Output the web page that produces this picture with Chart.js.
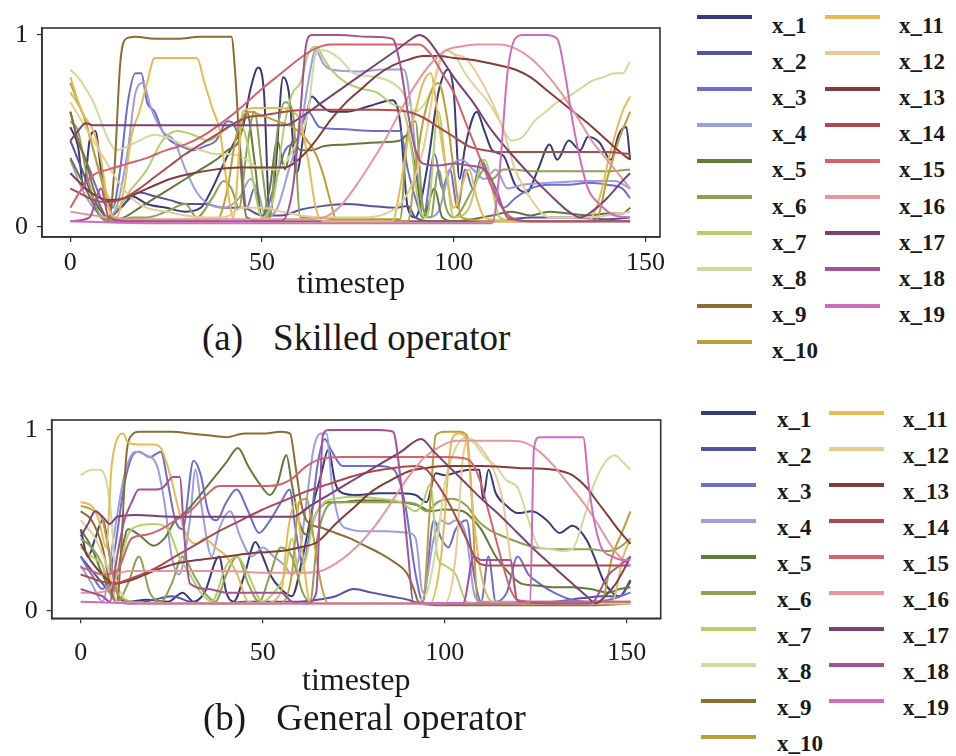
<!DOCTYPE html>
<html>
<head>
<meta charset="utf-8">
<script src="https://cdn.jsdelivr.net/npm/chart.js@4.4.1/dist/chart.umd.min.js"></script>
<style>
  body { margin: 0; background: #fff; width: 956px; height: 756px; position: relative; overflow: hidden; font-family: 'Liberation Serif', 'Times New Roman', serif; color: #1a1a1a; }
  canvas { position: absolute; left: 0; }
  .caption { position: absolute; font-size: 37px; line-height: 37px; white-space: nowrap; }
  .caption span { margin-left: 30px; }
  .lg-line { position: absolute; width: 55px; height: 4px; }
  .lg-text { position: absolute; font-size: 23px; line-height: 23px; font-weight: bold; }
</style>
</head>
<body>
<canvas id="chartA" width="680" height="304" style="top:0"></canvas>
<canvas id="chartB" width="680" height="311" style="top:390px"></canvas>
<div class="caption" style="left:202px;top:319px">(a)<span>Skilled operator</span></div>
<div class="caption" style="left:203px;top:699px">(b)<span>General operator</span></div>
<div id="legendA"></div>
<div id="legendB"></div>

<script>
const names = ['x_1','x_2','x_3','x_4','x_5','x_6','x_7','x_8','x_9','x_10',
               'x_11','x_12','x_13','x_14','x_15','x_16','x_17','x_18','x_19'];
const colors = ['#393b79','#5254a3','#6b6ecf','#9c9ede','#637939','#8ca252','#b5cf6b','#cedb9c','#8c6d31','#bd9e39',
                '#e7ba52','#e7cb94','#843c39','#ad494a','#d6616b','#e7969c','#7b4173','#a55194','#ce6dbd'];
const xTicks = [0, 50, 100, 150];
const yTicks = [0, 1];

// (a) Skilled operator: [timestep, value]
const aX1 = [[0,.52],[2,.42],[3.5,.2],[5,.45],[6.5,.5],[8,.3],[10,.12],[13,.1],[16,.16],[20,.12],[25,.1],[30,.08],[34,.1],[37,.2],[40,.33],[43,.45],[45,.52],[47,.72],[49,.83],[50.5,.7],[52,.06],[53.5,.3],[55.5,.78],[57,.7],[59,.28],[61,.5],[63,.68],[65,.64],[68,.6],[72,.6],[78,.63],[84,.66],[86,.55],[88,.1],[90,.05],[93,.3],[96,.7],[98.5,.82],[100,.7],[101.5,.25],[103,.42],[106,.6],[108,.5],[110,.4],[113,.37],[116,.22],[119,.18],[122,.3],[125,.43],[127,.35],[130,.45],[133,.4],[135,.47],[138,.44],[141,.35],[143,.48],[145,.52],[146,.35]];
const aX2 = [[0,.45],[3,.3],[6,.15],[10,.05],[14,.12],[18,.18],[22,.16],[26,.14],[30,.12],[35,.12],[40,.1],[45,.1],[50,.06],[55,.06],[60,.09],[66,.11],[72,.12],[78,.11],[85,.1],[88,.11],[90,.05],[94,.03],[100,.03],[110,.03],[120,.05],[130,.05],[140,.04],[146,.05]];
const aX3 = [[0,.6],[2,.45],[5,.3],[8,.15],[11,.1],[13,.3],[15,.65],[17,.8],[18.5,.8],[20,.65],[22,.6],[24,.5],[26,.45],[29,.42],[32,.4],[35,.42],[38,.45],[41,.55],[44,.45],[46,.1],[48,.2],[50,.05],[53,.2],[56,.4],[59,.45],[62,.6],[65,.52],[70,.51],[80,.5],[86,.5],[88,.3],[90,.15],[92,.05],[95,.38],[97,.2],[99,.3],[101,.1],[103,.3],[105,.2],[107,.35],[110,.22],[113,.1],[116,.15],[120,.2],[125,.22],[130,.22],[135,.23],[140,.22],[144,.2],[146,.15]];
const aX4 = [[0,.35],[3,.2],[6,.1],[9,.05],[12,.1],[15,.4],[17,.7],[19,.75],[21,.62],[24,.5],[27,.45],[30,.3],[33,.18],[36,.12],[40,.1],[44,.15],[47,.25],[49,.18],[51,.05],[54,.1],[57,.3],[60,.5],[62,.75],[64,.92],[66,.85],[68,.82],[75,.81],[82,.82],[87,.82],[89,.6],[91,.2],[93,.05],[96,.08],[99,.3],[102,.35],[105,.3],[108,.25],[111,.3],[114,.2],[118,.22],[125,.23],[135,.24],[142,.24],[146,.2]];
const aX5 = [[0,.36],[2,.28],[4,.2],[6,.12],[8,.05],[10,.03],[14,.05],[18,.1],[22,.15],[26,.2],[30,.25],[34,.3],[38,.35],[41,.4],[44,.45],[46,.6],[48,.35],[50,.05],[52,.2],[54,.45],[56,.3],[58,.45],[60,.4],[63,.4],[66,.42],[72,.43],[80,.44],[86,.45],[88,.48],[90,.3],[92,.05],[95,.2],[97,.05],[100,.03],[105,.04],[110,.06],[115,.08],[120,.06],[125,.08],[130,.07],[135,.06],[140,.07],[144,.07],[146,.1]];
const aX6 = [[0,.55],[2,.5],[4,.3],[6,.15],[8,.05],[12,.03],[16,.05],[20,.05],[25,.08],[30,.12],[33,.05],[37,.15],[40,.24],[42,.2],[44,.1],[46,.4],[48,.6],[50,.3],[52,.05],[54,.5],[56,.65],[58,.6],[60,.05],[63,.05],[70,.04],[80,.04],[86,.04],[88,.5],[90,.55],[92,.1],[94,.05],[96,.3],[98,.1],[100,.05],[105,.2],[108,.3],[110,.25],[113,.3],[115,.3],[120,.29],[130,.29],[140,.29],[146,.3]];
const aX7 = [[0,.7],[3,.6],[6,.4],[9,.2],[12,.1],[16,.2],[20,.3],[24,.45],[28,.5],[32,.48],[36,.45],[40,.5],[44,.55],[46,.45],[48,.2],[50,.05],[53,.15],[56,.55],[58,.7],[60,.75],[62,.9],[64,.94],[66,.88],[68,.82],[72,.75],[76,.72],[80,.7],[84,.64],[87,.6],[89,.4],[91,.1],[93,.05],[96,.6],[98,.3],[100,.05],[104,.1],[108,.35],[112,.05],[116,.03],[125,.03],[135,.03],[146,.03]];
const aX8 = [[0,.82],[2,.78],[4,.72],[6,.65],[8,.55],[10,.45],[12,.4],[15,.42],[18,.45],[22,.48],[26,.46],[30,.42],[34,.4],[38,.38],[42,.38],[46,.35],[50,.3],[54,.3],[58,.4],[62,.6],[64,.9],[66,.92],[70,.88],[74,.8],[80,.78],[86,.72],[90,.6],[94,.7],[98,.92],[100,.9],[103,.8],[106,.72],[109,.65],[112,.55],[115,.45],[118,.47],[121,.55],[124,.6],[127,.65],[130,.68],[133,.72],[136,.76],[139,.78],[142,.8],[144,.8],[146,.86]];
const aX9 = [[0,.6],[2,.45],[4,.35],[6,.2],[8,.1],[10,.04],[11.5,.3],[13,.85],[14.5,.98],[17,.99],[22,.98],[28,.98],[34,.99],[40,.99],[42,.99],[43,.8],[44.5,.3],[46,.05],[50,.03],[60,.03],[70,.03],[80,.03],[90,.03],[100,.03],[110,.03],[120,.03],[130,.03],[140,.03],[146,.03]];
const aX10 = [[0,.75],[2,.65],[4,.55],[6,.4],[8,.25],[10,.1],[12,.04],[20,.03],[30,.03],[38,.03],[41,.2],[43,.45],[45,.58],[47,.6],[50,.58],[54,.55],[58,.52],[61,.47],[64,.38],[66,.27],[68,.12],[69.5,.03],[75,.03],[85,.03],[88,.03],[90,.3],[92,.55],[94,.7],[96,.75],[98,.6],[100,.3],[102,.05],[110,.03],[120,.03],[130,.03],[137,.03],[140,.25],[143,.45],[146,.6]];
const aX11 = [[0,.78],[3,.6],[6,.5],[8,.35],[10,.1],[12,.05],[14,.2],[16,.48],[18,.6],[20,.75],[22,.88],[26,.88],[30,.88],[33,.88],[35,.75],[37,.62],[39,.5],[41,.2],[42.5,.05],[45,.6],[48,.62],[52,.62],[55,.62],[58,.6],[60,.55],[62,.35],[64,.1],[66,.03],[75,.03],[84,.03],[86,.2],[88,.45],[90,.6],[92,.75],[94,.8],[96,.55],[98,.3],[100,.1],[104,.3],[106,.15],[108,.05],[115,.03],[125,.03],[135,.03],[138,.15],[141,.4],[144,.6],[146,.68]];
const aX12 = [[0,.65],[3,.55],[6,.45],[9,.35],[12,.25],[16,.15],[20,.1],[25,.08],[30,.06],[35,.05],[40,.05],[45,.1],[50,.1],[55,.08],[60,.06],[66,.05],[75,.05],[85,.1],[92,.4],[96,.85],[98,.92],[100,.9],[103,.88],[106,.8],[110,.65],[113,.5],[116,.3],[120,.15],[125,.05],[135,.05],[146,.08]];
const aX13 = [[0,.28],[3,.22],[6,.17],[10,.14],[14,.15],[20,.2],[26,.25],[32,.28],[38,.3],[44,.31],[50,.31],[56,.31],[60,.36],[64,.45],[68,.56],[72,.65],[76,.72],[80,.79],[84,.84],[88,.87],[92,.89],[96,.89],[100,.88],[105,.87],[110,.85],[116,.82],[120,.78],[125,.7],[130,.62],[135,.54],[140,.45],[144,.38],[146,.35]];
const aX14 = [[0,.2],[3,.17],[6,.14],[10,.13],[14,.15],[18,.2],[22,.26],[26,.32],[30,.38],[34,.43],[38,.48],[42,.53],[46,.57],[50,.58],[56,.6],[62,.61],[70,.61],[80,.61],[88,.6],[92,.57],[96,.52],[100,.47],[104,.42],[108,.4],[112,.39],[120,.39],[130,.39],[140,.39],[146,.38]];
const aX15 = [[0,.1],[3,.2],[6,.27],[10,.3],[15,.33],[20,.36],[25,.4],[30,.43],[35,.48],[40,.55],[45,.63],[50,.72],[55,.8],[60,.88],[64,.93],[68,.95],[75,.95],[85,.95],[91,.95],[94,.9],[97,.8],[100,.7],[103,.55],[106,.4],[109,.25],[112,.12],[115,.05],[120,.03],[130,.03],[140,.03],[146,.03]];
const aX16 = [[0,.08],[10,.05],[20,.04],[30,.04],[40,.04],[50,.04],[60,.04],[66,.05],[70,.1],[74,.2],[78,.32],[82,.45],[86,.6],[90,.74],[94,.85],[98,.92],[102,.94],[106,.95],[112,.95],[116,.93],[120,.88],[124,.8],[128,.7],[132,.58],[136,.45],[140,.35],[144,.25],[146,.2]];
const aX17 = [[0,.45],[2,.5],[4,.54],[6,.53],[10,.53],[20,.53],[30,.53],[40,.53],[50,.53],[56,.53],[60,.57],[65,.64],[70,.71],[75,.78],[80,.85],[85,.92],[89,.98],[91,1.0],[93,.98],[96,.9],[100,.78],[105,.65],[110,.5],[115,.38],[120,.27],[125,.17],[130,.08],[133,.05],[136,.08],[140,.15],[144,.24],[146,.28]];
const aX18 = [[0,.03],[5,.05],[8,.2],[10,.05],[15,.03],[30,.03],[45,.03],[55,.03],[58,.2],[60,.6],[61.5,.95],[63,1.0],[70,1.0],[78,.99],[84,.98],[86,.85],[88,.6],[90,.4],[92,.33],[96,.32],[100,.33],[104,.32],[108,.3],[111,.2],[114,.05],[120,.03],[130,.03],[140,.03],[146,.03]];
const aX19 = [[0,.03],[20,.02],[40,.02],[60,.02],[80,.02],[100,.02],[110,.02],[112,.3],[114,.8],[116,.98],[118,1.0],[124,1.0],[127,.98],[129,.8],[131,.55],[133,.35],[135,.2],[138,.12],[142,.06],[146,.05]];

// (b) General operator: [timestep, value]
const bX1 = [[0,.45],[2,.3],[4,.4],[6,.5],[8,.3],[10,.1],[13,.05],[18,.06],[24,.05],[28,.1],[31,.05],[34,.1],[38,.3],[40,.1],[42,.05],[45,.2],[48,.38],[50,.3],[52,.2],[55,.12],[58,.08],[61,.3],[64,.6],[66,.75],[68,.89],[70,.7],[72,.65],[76,.64],[82,.65],[88,.65],[92,.64],[95,.6],[97.5,.76],[100,.75],[104,.77],[107,.78],[109.5,.78],[110.5,.62],[112,.78],[114,.65],[117,.58],[120,.54],[124,.55],[128,.5],[131.6,.43],[135,.47],[139,.39],[141,.3],[143.5,.17],[146,.1],[148,.08],[151,.17]];
const bX2 = [[0,.3],[4,.2],[8,.1],[10,.05],[15,.04],[20,.06],[25,.08],[30,.05],[35,.04],[40,.04],[45,.05],[50,.05],[55,.05],[60,.05],[65,.06],[70,.08],[75,.12],[80,.1],[85,.08],[90,.06],[93,.04],[100,.04],[110,.04],[120,.04],[130,.05],[138,.07],[143,.08],[148,.08],[151,.16]];
const bX3 = [[0,.3],[3,.2],[6,.12],[9,.3],[12,.7],[14,.85],[16,.88],[19,.85],[22,.88],[24,.7],[26,.5],[28,.45],[31,.83],[33,.75],[35,.55],[37.3,.5],[40,.6],[42.8,.67],[46,.55],[49,.43],[52,.5],[55,.6],[57.4,.67],[59,.45],[61,.26],[63,.45],[65,.8],[67,.95],[69,.88],[72,.8],[76,.8],[82,.8],[86,.78],[89,.6],[92,.2],[94,.05],[97,.5],[99,.4],[101,.35],[103,.45],[106,.5],[108,.2],[110,.05],[112,.3],[114,.05],[117,.1],[120,.3],[123,.2],[126,.15],[130,.1],[135,.06],[140,.05],[145,.06],[151,.1]];
const bX4 = [[0,.25],[3,.15],[6,.05],[9,.4],[12,.75],[15,.88],[18,.86],[21,.8],[23,.6],[25,.3],[27,.2],[30,.5],[31.5,.78],[33,.6],[36,.3],[38,.45],[41,.55],[44,.4],[47,.3],[50,.35],[53,.3],[56,.25],[58,.2],[60,.3],[62,.6],[64,.9],[66,.98],[67.5,.98],[69,.7],[71,.5],[74,.45],[78,.44],[84,.44],[90,.43],[92,.4],[94,.1],[97,.4],[99,.5],[101,.48],[103,.5],[106,.4],[108,.1],[110,.05],[115,.05],[125,.05],[135,.05],[145,.05],[151,.05]];
const bX5 = [[0,.45],[3,.35],[6,.2],[9,.1],[11,.3],[13,.45],[16,.42],[20,.36],[23,.4],[26,.5],[29,.55],[32,.62],[36,.72],[40,.82],[43.2,.9],[46,.8],[49.2,.7],[52,.64],[54,.7],[56.5,.86],[58,.7],[60.2,.48],[62,.42],[65,.55],[68,.6],[72,.6],[76,.61],[82,.61],[88,.6],[93,.58],[96,.55],[100,.56],[105,.55],[108,.5],[110,.45],[114,.3],[118,.2],[121,.15],[125,.14],[130,.13],[135,.13],[140,.12],[145,.1],[148,.12],[151,.13]];
const bX6 = [[0,.4],[3,.35],[6,.25],[8,.1],[10,.05],[13,.15],[16,.3],[19,.1],[22,.05],[25,.15],[28,.3],[31,.2],[34,.1],[37,.05],[40,.2],[43,.3],[46,.15],[49,.05],[52,.2],[55,.35],[58,.3],[61,.1],[63,.05],[65,.4],[67,.55],[70,.6],[75,.6],[82,.6],[88,.6],[92,.59],[95,.55],[98,.6],[102,.62],[106,.58],[109,.5],[112,.45],[115,.42],[120,.38],[125,.35],[130,.34],[135,.34],[140,.34],[145,.33],[148,.35],[151,.4]];
const bX7 = [[0,.35],[3,.3],[6,.25],[8,.15],[10,.2],[13,.42],[16,.47],[20,.48],[24,.45],[27,.3],[30,.2],[33,.1],[36,.05],[40,.25],[43,.3],[46,.2],[50,.05],[53,.1],[56,.2],[58,.4],[60,.2],[62,.3],[64,.5],[67,.6],[70,.62],[75,.63],[82,.62],[88,.6],[92,.55],[94,.6],[96,.7],[98,.3],[100,.25],[103,.2],[106,.05],[110,.04],[120,.04],[130,.04],[140,.04],[151,.05]];
const bX8 = [[0,.75],[3,.78],[5.3,.78],[7,.72],[8.5,.5],[9.5,.2],[11,.1],[14,.05],[20,.04],[30,.04],[40,.04],[50,.04],[60,.04],[70,.04],[80,.04],[90,.04],[95,.1],[98,.4],[100,.7],[103,.9],[106,.96],[108,.93],[111,.85],[114,.8],[117,.72],[120,.68],[123,.5],[126,.35],[129,.34],[132,.33],[135,.34],[138,.5],[141,.7],[144,.82],[146.7,.86],[149,.82],[151,.78]];
const bX9 = [[0,.55],[3,.5],[6,.35],[8,.15],[10,.05],[11,.3],[12.5,.85],[14,.97],[16,.99],[20,.99],[25,.99],[30,.98],[35,.97],[40,.96],[45,.98],[50,.98],[55,.99],[57.5,.98],[59,.8],[60.5,.6],[62,.5],[66,.46],[70,.43],[74,.4],[78,.36],[82,.32],[86,.27],[89.5,.21],[91.5,.12],[93,.04],[100,.03],[110,.03],[120,.03],[130,.03],[140,.03],[151,.04]];
const bX10 = [[0,.58],[3,.56],[6,.5],[8,.3],[10,.1],[14,.05],[20,.04],[30,.04],[40,.04],[50,.04],[55,.04],[58,.2],[60,.6],[62,.62],[64,.4],[66,.15],[68,.04],[80,.04],[90,.04],[94,.05],[96,.6],[97.5,.97],[100,.99],[104,.99],[106,.97],[107.5,.6],[109,.05],[115,.04],[125,.04],[135,.04],[143,.05],[146,.3],[149,.45],[151,.55]];
const bX11 = [[0,.6],[3,.58],[5,.5],[7,.35],[8.5,.8],[10,.95],[11.7,.98],[13,.93],[16,.92],[20,.92],[22,.9],[24.6,.75],[27,.55],[29,.42],[31.8,.37],[34,.4],[37,.35],[40,.3],[43,.2],[46,.05],[50,.04],[55,.1],[57,.45],[59,.6],[61,.3],[63,.05],[70,.04],[80,.04],[90,.04],[96,.04],[99,.3],[102,.95],[104,.98],[106,.94],[108,.5],[110,.2],[113,.05],[120,.04],[130,.04],[140,.04],[146,.05],[149,.3],[151,.4]];
const bX12 = [[0,.5],[4,.4],[8,.2],[10,.05],[20,.04],[30,.04],[40,.04],[50,.04],[60,.04],[70,.04],[80,.04],[90,.04],[100,.04],[103,.3],[105,.85],[107,.95],[110,.9],[113,.8],[116,.6],[118,.3],[120,.05],[130,.04],[140,.04],[151,.04]];
const bX13 = [[0,.37],[3,.27],[6,.2],[9,.15],[14,.17],[20,.22],[26,.26],[32,.28],[40,.3],[48,.32],[55,.33],[60,.35],[65,.38],[70,.48],[75,.57],[80,.66],[85,.72],[90,.77],[95,.79],[100,.8],[110,.8],[120,.79],[130,.78],[135,.75],[139,.68],[142,.6],[145,.52],[148,.44],[151,.37]];
const bX14 = [[0,.2],[3,.18],[6,.16],[9,.15],[14,.18],[20,.23],[26,.3],[32,.37],[38,.44],[44,.5],[50,.56],[56,.61],[62,.66],[68,.7],[74,.74],[80,.77],[86,.79],[92,.8],[95,.78],[98,.7],[101,.6],[104,.48],[107,.35],[109,.27],[112,.25],[120,.25],[130,.25],[140,.25],[146,.25],[151,.25]];
const bX15 = [[0,.24],[3,.22],[6,.2],[10,.22],[14,.4],[18,.42],[22,.45],[26,.5],[30,.55],[34,.63],[38,.69],[44,.69],[50,.69],[55,.7],[58,.73],[62,.8],[66,.84],[72,.85],[80,.85],[90,.85],[100,.85],[106,.84],[108,.8],[110,.7],[112,.55],[114,.4],[116,.25],[118,.12],[120,.06],[125,.05],[135,.05],[145,.05],[151,.05]];
const bX16 = [[0,.1],[4,.1],[8,.12],[10,.2],[14,.22],[20,.22],[30,.22],[40,.22],[50,.21],[60,.21],[66,.22],[70,.26],[74,.32],[78,.4],[82,.5],[86,.62],[90,.74],[94,.84],[98,.9],[103,.94],[110,.94],[118,.94],[122,.93],[126,.88],[130,.8],[134,.7],[138,.6],[142,.48],[145,.38],[148,.3],[151,.25]];
const bX17 = [[0,.41],[2,.48],[4,.55],[6,.52],[8,.48],[10,.52],[15,.53],[25,.52],[35,.52],[45,.52],[55,.52],[58.3,.52],[63,.58],[68,.64],[73,.7],[78,.76],[83,.82],[88,.88],[93.5,.95],[97,.88],[101,.8],[105,.72],[110,.62],[115,.53],[120,.43],[125,.33],[130,.24],[135,.15],[139,.08],[141.5,.04],[144,.08],[147,.15],[149,.22],[151,.3]];
const bX18 = [[0,.12],[3,.1],[6,.08],[8,.05],[10,.3],[12,.5],[14,.6],[16,.67],[20,.67],[22.5,.68],[25.4,.74],[27.2,.74],[28.5,.4],[30,.15],[35,.12],[40,.1],[50,.1],[55,.1],[58,.05],[62,.04],[64.7,.1],[66.5,.97],[68,1.0],[75,1.0],[82,1.0],[85.8,.99],[88,.7],[90,.3],[91.3,.05],[96,.04],[105,.04],[108,.3],[110,.28],[115,.28],[118,.28],[120,.05],[130,.04],[140,.04],[145,.2],[148,.25],[151,.3]];
const bX19 = [[0,.05],[20,.04],[40,.04],[60,.04],[80,.04],[100,.04],[120,.04],[123.4,.05],[124.5,.9],[126,.96],[132,.96],[138,.96],[139.5,.7],[141,.5],[143,.35],[146,.3],[149,.28],[151,.28]];

const skilled = [aX1,aX2,aX3,aX4,aX5,aX6,aX7,aX8,aX9,aX10,aX11,aX12,aX13,aX14,aX15,aX16,aX17,aX18,aX19];
const general = [bX1,bX2,bX3,bX4,bX5,bX6,bX7,bX8,bX9,bX10,bX11,bX12,bX13,bX14,bX15,bX16,bX17,bX18,bX19];

const serif = "'Liberation Serif', 'Times New Roman', serif";
const axisColor = '#333';

// full box around the plot area, like matplotlib's spines
const framePlugin = {
  id: 'frame',
  afterDraw(chart) {
    const { ctx, chartArea: a } = chart;
    ctx.save();
    ctx.strokeStyle = axisColor;
    ctx.lineWidth = 1.6;
    ctx.strokeRect(a.left, a.top, a.right - a.left, a.bottom - a.top);
    ctx.restore();
  }
};

function makeChart(id, series, o) {
  return new Chart(document.getElementById(id), {
    type: 'line',
    data: {
      datasets: series.map((pts, i) => ({
        label: names[i],
        data: pts.map(([x, y]) => ({ x, y })),
        borderColor: colors[i],
        borderWidth: 2,
        pointRadius: 0,
        cubicInterpolationMode: 'monotone',
        order: series.length - i
      }))
    },
    options: {
      responsive: false,
      animation: false,
      layout: { padding: { top: o.top, right: o.right, left: 0, bottom: 0 } },
      plugins: { legend: { display: false }, tooltip: { enabled: false } },
      scales: {
        x: {
          type: 'linear',
          min: o.xMin, max: o.xMax,
          afterBuildTicks: s => { s.ticks = xTicks.map(v => ({ value: v })); },
          afterFit: s => { s.height = o.xh; },
          ticks: { autoSkip: false, maxRotation: 0, padding: o.xPad, color: '#1a1a1a', font: { family: serif, size: 26 } },
          grid: { drawOnChartArea: false, tickLength: 5, color: axisColor, lineWidth: 1.2 },
          border: { color: axisColor, width: 1.6 },
          title: { display: true, text: 'timestep', color: '#1a1a1a', padding: 0, font: { family: serif, size: 32, lineHeight: 1.2 } }
        },
        y: {
          min: o.yMin, max: o.yMax,
          afterBuildTicks: s => { s.ticks = yTicks.map(v => ({ value: v })); },
          afterFit: s => { s.width = o.yw; },
          ticks: { padding: 9, color: '#1a1a1a', font: { family: serif, size: 26 } },
          grid: { drawOnChartArea: false, tickLength: 5, color: axisColor, lineWidth: 1.2 },
          border: { color: axisColor, width: 1.6 }
        }
      }
    },
    plugins: [framePlugin]
  });
}

makeChart('chartA', skilled, { top: 28, right: 20, yw: 42, xh: 67, xPad: 6, xMin: -7.4, xMax: 153.8, yMin: -0.052, yMax: 1.036 });
makeChart('chartB', general, { top: 30, right: 19.3, yw: 51.7, xh: 82.7, xPad: 14, xMin: -7.96, xMax: 159.3, yMin: -0.042, yMax: 1.055 });

// two-column legends, x_1..x_10 left and x_11..x_19 right
function buildLegend(id, o) {
  const box = document.getElementById(id);
  names.forEach((n, i) => {
    const col = i < 10 ? 0 : 1;
    const row = i < 10 ? i : i - 10;
    const y = o.y0 + row * o.dy;
    const line = document.createElement('div');
    line.className = 'lg-line';
    line.style.left = (col ? o.line2 : o.line1) + 'px';
    line.style.top = (y - 2) + 'px';
    line.style.background = colors[i];
    const txt = document.createElement('div');
    txt.className = 'lg-text';
    txt.style.left = (col ? o.text2 : o.text1) + 'px';
    txt.style.top = (y + o.base - 19.3) + 'px';
    txt.textContent = n;
    box.appendChild(line);
    box.appendChild(txt);
  });
}
buildLegend('legendA', { y0: 16.7, dy: 36.1, line1: 697, text1: 772, line2: 825, text2: 899, base: 16.6 });
buildLegend('legendB', { y0: 412.7, dy: 36, line1: 701, text1: 777, line2: 829, text2: 903, base: 14.6 });
</script>
</body>
</html>
